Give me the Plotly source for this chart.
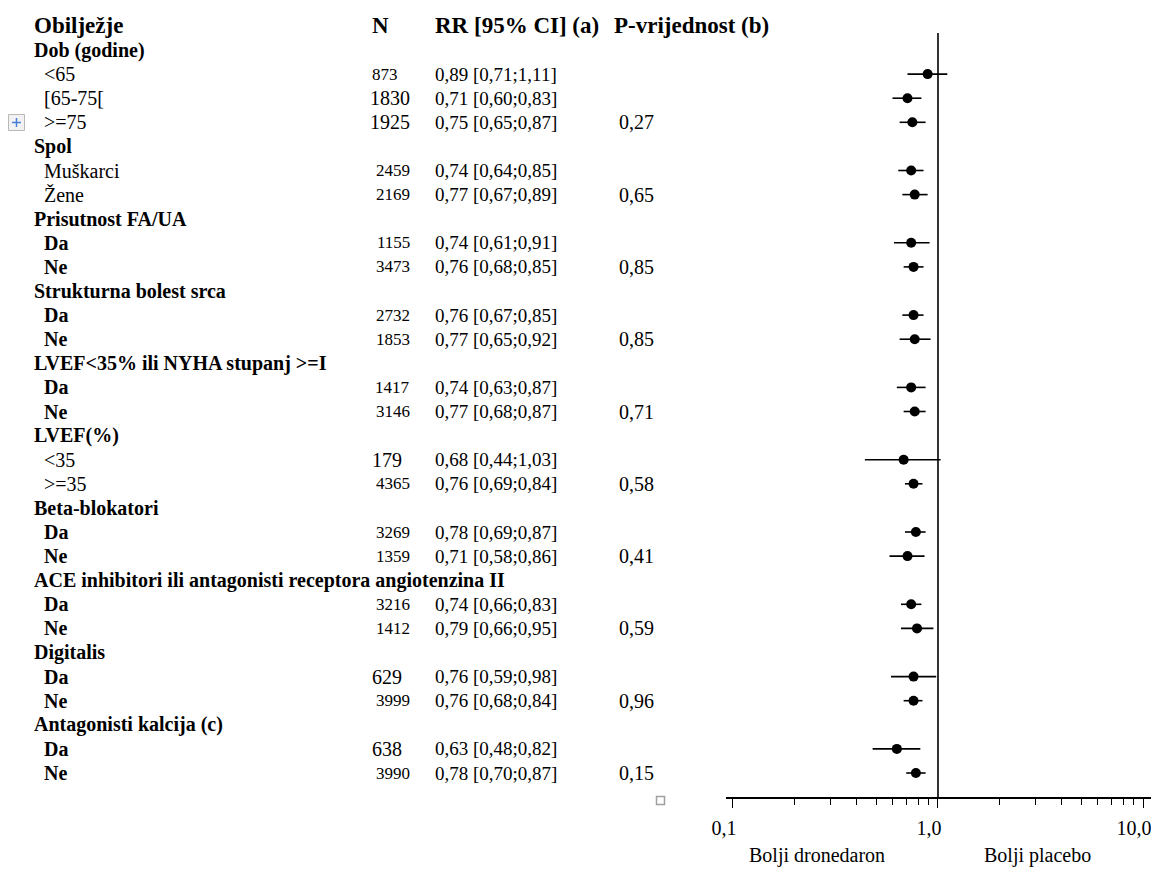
import plotly.graph_objects as go

# ---------------- data ----------------
group_names = [
    "Dob (godine)", "Spol", "Prisutnost FA/UA", "Strukturna bolest srca",
    "LVEF<35% ili NYHA stupanj >=I", "LVEF(%)", "Beta-blokatori",
    "ACE inhibitori ili antagonisti receptora angiotenzina II",
    "Digitalis", "Antagonisti kalcija (c)",
]
sub_labels = [
    ["<65", "[65-75[", ">=75"],
    ["Muškarci", "Žene"],
    ["Da", "Ne"],
    ["Da", "Ne"],
    ["Da", "Ne"],
    ["<35", ">=35"],
    ["Da", "Ne"],
    ["Da", "Ne"],
    ["Da", "Ne"],
    ["Da", "Ne"],
]
n_values = [
    [873, 1830, 1925], [2459, 2169], [1155, 3473], [2732, 1853], [1417, 3146],
    [179, 4365], [3269, 1359], [3216, 1412], [629, 3999], [638, 3990],
]
rr = [
    [0.89, 0.71, 0.75], [0.74, 0.77], [0.74, 0.76], [0.76, 0.77], [0.74, 0.77],
    [0.68, 0.76], [0.78, 0.71], [0.74, 0.79], [0.76, 0.76], [0.63, 0.78],
]
ci_low = [
    [0.71, 0.60, 0.65], [0.64, 0.67], [0.61, 0.68], [0.67, 0.65], [0.63, 0.68],
    [0.44, 0.69], [0.69, 0.58], [0.66, 0.66], [0.59, 0.68], [0.48, 0.70],
]
ci_high = [
    [1.11, 0.83, 0.87], [0.85, 0.89], [0.91, 0.85], [0.85, 0.92], [0.87, 0.87],
    [1.03, 0.84], [0.87, 0.86], [0.83, 0.95], [0.98, 0.84], [0.82, 0.87],
]
p_values = ["0,27", "0,65", "0,85", "0,85", "0,71", "0,58", "0,41", "0,59", "0,96", "0,15"]
tick_vals = [0.1, 1.0, 10.0]
tick_text = ["0,1", "1,0", "10,0"]
headers = ["Obilježje", "N", "RR [95% CI] (a)", "P-vrijednost (b)"]
x_labels = ["Bolji dronedaron", "Bolji placebo"]

# ---------------- styling helpers ----------------
W, H = 1151, 869
FONT = "Liberation Serif"
AXIS_PX = 797          # pixel row of the x-axis line
ROW0_PX, ROW_STEP = 50, 24.1


def px_x(p):
    return p / W


def px_y(p):
    return (H - p) / H


def fmt(v):
    return f"{v:.2f}".replace(".", ",")


large_n = {1830, 1925, 179, 629, 638}
bold_subs = {"Da", "Ne"}

fig = go.Figure()
ann = []

row = 0
pt_y, pt_x, pt_lo, pt_hi = [], [], [], []
for g, gname in enumerate(group_names):
    ann.append(dict(x=px_x(32), y=row, text=f"<b>{gname}</b>", font=dict(size=20)))
    row += 1
    subs = sub_labels[g]
    for k, lab in enumerate(subs):
        txt = f"<b>{lab}</b>" if lab in bold_subs else lab
        ann.append(dict(x=px_x(42), y=row, text=txt, font=dict(size=20)))
        n = n_values[g][k]
        size_n = 20 if n in large_n else 17
        if n < 1000:
            ann.append(dict(x=px_x(370), y=row, text=str(n), font=dict(size=size_n)))
        else:
            ann.append(dict(x=px_x(412), y=row, text=str(n), xanchor="right",
                            font=dict(size=size_n)))
        r, lo, hi = rr[g][k], ci_low[g][k], ci_high[g][k]
        ann.append(dict(x=px_x(433), y=row, text=f"{fmt(r)} [{fmt(lo)};{fmt(hi)}]",
                        font=dict(size=19)))
        if k == len(subs) - 1:
            ann.append(dict(x=px_x(617), y=row, text=p_values[g], font=dict(size=20)))
        pt_y.append(row)
        pt_x.append(r)
        pt_lo.append(r - lo)
        pt_hi.append(hi - r)
        row += 1

y_top = -ROW0_PX / ROW_STEP
y_bot = (AXIS_PX - ROW0_PX) / ROW_STEP

# headers
for txt, xp in zip(headers, [32, 370, 433, 612]):
    ann.append(dict(x=px_x(xp), y=-1, text=f"<b>{txt}</b>", font=dict(size=23)))
for a in ann:
    a.update(xref="paper", yref="y", xanchor=a.get("xanchor", "left"),
             yanchor="middle", showarrow=False)
    a["font"].update(family=FONT, color="black")

# bottom labels
for txt, xc in zip(x_labels, [817, 1037]):
    ann.append(dict(x=px_x(xc), y=px_y(855), xref="paper", yref="paper",
                    text=txt, showarrow=False, xanchor="center", yanchor="middle",
                    font=dict(family=FONT, size=20, color="black")))

fig.add_trace(go.Scatter(
    x=pt_x, y=pt_y, mode="markers",
    marker=dict(symbol="circle", size=10, color="black"),
    error_x=dict(type="data", symmetric=False, array=pt_hi, arrayminus=pt_lo,
                 color="black", thickness=1.6, width=0),
    hoverinfo="skip", showlegend=False,
))

shapes = [
    # reference line at RR = 1
    dict(type="line", xref="x", yref="y", x0=1, x1=1,
         y0=(33 - ROW0_PX) / ROW_STEP, y1=y_bot,
         line=dict(color="black", width=1.6)),
    # Word anchor box (move handle)
    dict(type="rect", xref="paper", yref="paper", x0=px_x(8.5), x1=px_x(24.5),
         y0=px_y(130.5), y1=px_y(114.5), line=dict(color="#b8b8b8", width=1),
         fillcolor="#f2f2f2"),
    dict(type="line", xref="paper", yref="paper", x0=px_x(12), x1=px_x(21),
         y0=px_y(122.5), y1=px_y(122.5), line=dict(color="#4a7fd6", width=1.5)),
    dict(type="line", xref="paper", yref="paper", x0=px_x(16.5), x1=px_x(16.5),
         y0=px_y(118), y1=px_y(127), line=dict(color="#4a7fd6", width=1.5)),
    # small square handle
    dict(type="rect", xref="paper", yref="paper", x0=px_x(656.5), x1=px_x(664.5),
         y0=px_y(804.5), y1=px_y(796.5), line=dict(color="#a0a0a0", width=1.5),
         fillcolor="white"),
]

minor_vals = [m * 0.1 for m in range(2, 10)] + [float(m) for m in range(2, 10)]

fig.update_layout(
    width=W, height=H,
    margin=dict(l=0, r=0, t=0, b=0),
    paper_bgcolor="white", plot_bgcolor="white",
    annotations=ann, shapes=shapes,
    showlegend=False,
    xaxis=dict(
        type="log", domain=[px_x(726), 1.0], range=[-1.034, 1.039],
        showgrid=False, zeroline=False, showline=True, linecolor="black", linewidth=1.6,
        ticks="outside", tickvals=tick_vals, ticktext=tick_text, ticklen=9,
        tickwidth=1.4, tickcolor="black", ticklabelstandoff=3, ticklabelshift=-9,
        ticklabeloverflow="allow",
        tickfont=dict(family=FONT, size=20, color="black"),
        minor=dict(ticks="outside", tickvals=minor_vals, ticklen=6, tickwidth=1.2,
                   tickcolor="black", showgrid=False),
        automargin=False, fixedrange=True,
    ),
    yaxis=dict(
        domain=[px_y(AXIS_PX), 1.0], range=[y_bot, y_top],
        visible=False, showgrid=False, zeroline=False, automargin=False, fixedrange=True,
    ),
)

fig.write_html(
    "out.html",
    config={"displayModeBar": False},
    post_script="document.body.style.margin='0';document.body.style.overflow='hidden';",
)
